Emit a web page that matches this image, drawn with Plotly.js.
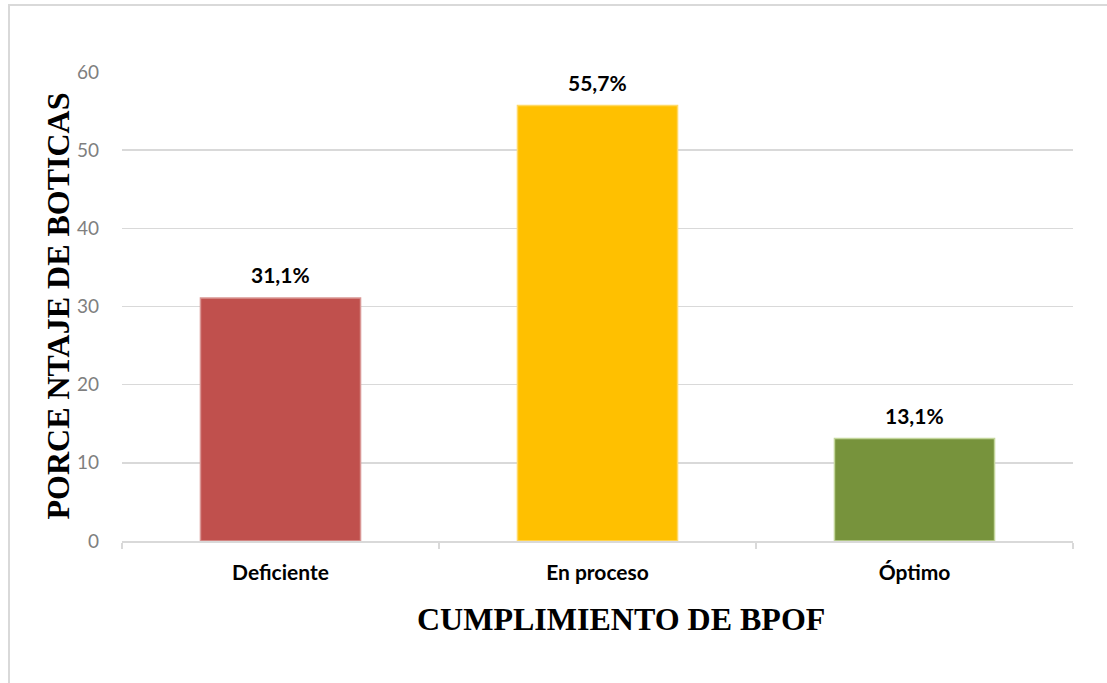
<!DOCTYPE html>
<html>
<head>
<meta charset="utf-8">
<script src="https://cdn.plot.ly/plotly-3.0.1.min.js"></script>
<style>
html,body{margin:0;padding:0;background:#fff;overflow:hidden;}
#chart{width:1107px;height:683px;}
#frame{position:absolute;left:8px;top:4px;width:1120px;height:720px;border:2px solid #d9d9d9;pointer-events:none;box-sizing:border-box;}
</style>
</head>
<body>
<div id="chart"></div>
<div id="frame"></div>
<script>
const categories = ["Deficiente", "En proceso", "Óptimo"];
const values = [31.1, 55.7, 13.1];
const valueLabels = ["31,1%", "55,7%", "13,1%"];
const barColors = ["#C0504D", "#FFC000", "#77933C"];
const barEdges = ["#d99694", "#ffd966", "#c3d69b"];
const yTicks = [0, 10, 20, 30, 40, 50, 60];
const xTitle = "CUMPLIMIENTO DE BPOF";
const yTitle = "PORCE NTAJE DE BOTICAS";

const trace = {
  type: "bar",
  x: categories,
  y: values,
  width: 0.505,
  marker: {color: barColors, line: {color: barEdges, width: 1.5}},
  hoverinfo: "none"
};

const labelFont = {family: "Lato, 'Open Sans', sans-serif", size: 21, color: "#000"};
const titleFont = {family: "'Liberation Serif', 'Times New Roman', serif", size: 32, color: "#000"};

const annotations = categories.map((c, i) => ({
  x: c, y: values[i], xref: "x", yref: "y",
  text: "<b>" + valueLabels[i] + "</b>",
  showarrow: false, yanchor: "bottom", yshift: 9,
  font: labelFont
}));
annotations.push({
  xref: "paper", yref: "paper", x: 0.5, y: 0, xshift: 23, yshift: -78,
  xanchor: "center", yanchor: "middle", showarrow: false,
  text: "<b>" + xTitle + "</b>", font: titleFont
});
annotations.push({
  xref: "paper", yref: "paper", x: 0, y: 0.5, xshift: -65, yshift: 0,
  xanchor: "center", yanchor: "middle", showarrow: false, textangle: -90,
  text: "<b>" + yTitle + "</b>", font: titleFont
});

const layout = {
  width: 1107, height: 683,
  margin: {l: 122, r: 34, t: 72, b: 142},
  paper_bgcolor: "#fff", plot_bgcolor: "#fff",
  showlegend: false,
  xaxis: {
    type: "category",
    showgrid: false,
    showline: true, linecolor: "#d9d9d9", linewidth: 1.5,
    ticks: "outside", tickson: "boundaries", ticklen: 6, tickcolor: "#d9d9d9", tickwidth: 1.5,
    tickfont: {family: "Lato, 'Open Sans', sans-serif", size: 21, color: "#000", weight: "bold"},
    ticklabelstandoff: 12
  },
  yaxis: {
    range: [0, 60], tickvals: yTicks, ticktext: yTicks.map(String),
    showgrid: true, gridcolor: "#d9d9d9", gridwidth: 1.5,
    zeroline: false, showline: false, ticks: "",
    tickfont: {family: "Lato, 'Open Sans', sans-serif", size: 19, color: "#7f7f7f"},
    ticklabelstandoff: 22
  },
  annotations: annotations
};

Plotly.newPlot("chart", [trace], layout, {displayModeBar: false, staticPlot: true});
</script>
</body>
</html>
